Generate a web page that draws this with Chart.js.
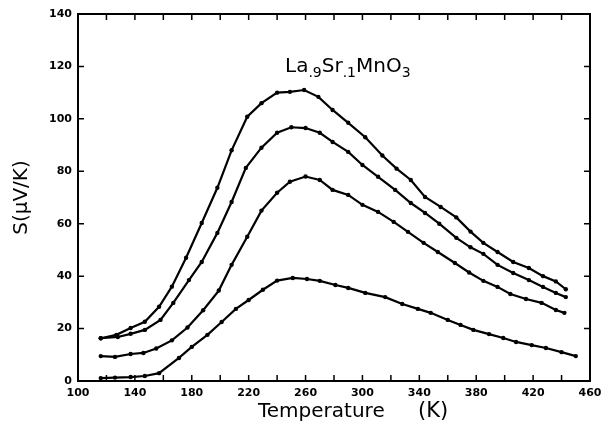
<!DOCTYPE html>
<html>
<head>
<meta charset="utf-8">
<script src="https://cdn.jsdelivr.net/npm/chart.js@4/dist/chart.umd.min.js"></script>
<style>
  html, body { margin: 0; padding: 0; background: #fff; }
  #wrap { width: 616px; height: 427px; }
</style>
</head>
<body>
<div id="wrap"><canvas id="seebeckChart" width="616" height="427"></canvas></div>
<script>
// Temperature (K) and S (uV/K), top to bottom
var temps1 = [116, 127, 137, 147, 157, 166, 176, 187, 198, 208, 219, 229, 240, 249, 259, 269, 279, 290, 302, 314, 324, 334, 344, 355, 366, 376, 385, 395, 406, 417, 427, 436, 443];
var seebeck1 = [16.3, 17.6, 20.2, 22.6, 28.3, 36, 47, 60.3, 73.7, 88, 100.8, 106, 110, 110.3, 111, 108.4, 103.4, 98.5, 93, 86, 81, 76.7, 70.2, 66.4, 62.4, 57, 52.7, 49.2, 45.4, 43.1, 40, 38, 35];

var temps2 = [116, 128, 137, 147, 158, 167, 178, 187, 198, 208, 218, 229, 240, 250, 260, 270, 279, 290, 300, 311, 323, 334, 344, 354, 366, 376, 385, 395, 406, 417, 427, 436, 443];
var seebeck2 = [16.3, 16.8, 18, 19.5, 23.3, 29.8, 38.5, 45.4, 56.5, 68.3, 81.3, 89, 94.7, 96.8, 96.5, 94.7, 91.2, 87.4, 82.4, 77.9, 72.9, 67.9, 64.1, 60, 54.6, 51, 48.5, 44.3, 41.2, 38.5, 35.9, 33.6, 32];

var temps3 = [116, 126, 137, 146, 155, 166, 177, 188, 199, 208, 219, 229, 240, 249, 260, 270, 279, 290, 300, 311, 322, 332, 343, 353, 365, 375, 385, 395, 404, 415, 426, 436, 442];
var seebeck3 = [9.5, 9.2, 10.3, 10.7, 12.4, 15.5, 20.4, 27, 34.5, 44.3, 55, 65, 71.8, 76, 78, 76.7, 72.9, 71, 67.2, 64.5, 60.7, 56.9, 52.7, 49.2, 45, 41.4, 38.2, 35.9, 33.2, 31.3, 29.8, 27.1, 26];

var temps4 = [116, 126, 137, 147, 157, 171, 180, 191, 201, 211, 220, 230, 240, 251, 261, 270, 281, 290, 302, 316, 328, 339, 348, 360, 369, 378, 389, 399, 408, 419, 429, 440, 450];
var seebeck4 = [1.1, 1.3, 1.5, 1.9, 3, 8.8, 13, 17.6, 22.5, 27.5, 30.9, 34.8, 38.3, 39.3, 38.9, 38.2, 36.6, 35.5, 33.6, 32, 29.4, 27.5, 26, 23.3, 21.4, 19.5, 17.9, 16.4, 14.9, 13.7, 12.6, 11, 9.5];

var xTickLabels = [100, 140, 180, 220, 260, 300, 340, 380, 420, 460];
var yTickLabels = [0, 20, 40, 60, 80, 100, 120, 140];

function toPoints(xs, ys) {
    var pts = [];
    for (var i = 0; i < xs.length; i++) {
        pts.push({ x: xs[i], y: ys[i] });
    }
    return pts;
}

function curve(xs, ys) {
    return {
        data: toPoints(xs, ys),
        borderColor: '#000',
        backgroundColor: '#000',
        borderWidth: 2.2,
        pointRadius: 2.2,
        pointBorderWidth: 0,
        tension: 0,
        showLine: true
    };
}

// frame, inward ticks, x title and the compound name inside the plot
var framePlugin = {
    id: 'frame',
    afterDraw: function (chart) {
        var c = chart.ctx, a = chart.chartArea;
        var xs = chart.scales.x, ys = chart.scales.y;
        c.save();
        c.strokeStyle = '#000';
        c.lineWidth = 2;
        c.strokeRect(a.left, a.top, a.right - a.left, a.bottom - a.top);
        c.lineWidth = 1.5;
        for (var t = 100; t <= 460; t += 20) {
            var px = xs.getPixelForValue(t);
            c.beginPath();
            c.moveTo(px, a.bottom); c.lineTo(px, a.bottom - 6);
            c.moveTo(px, a.top); c.lineTo(px, a.top + 6);
            c.stroke();
        }
        for (var s = 0; s <= 140; s += 20) {
            var py = ys.getPixelForValue(s);
            c.beginPath();
            c.moveTo(a.left, py); c.lineTo(a.left + 6, py);
            c.moveTo(a.right, py); c.lineTo(a.right - 6, py);
            c.stroke();
        }
        c.fillStyle = '#000';
        c.textBaseline = 'alphabetic';
        c.textAlign = 'left';
        // x axis title
        c.font = '20px "DejaVu Sans"';
        c.fillText('Temperature', 258, 417);
        c.font = '21px "DejaVu Sans"';
        c.fillText('(K)', 418, 417);
        // La.9Sr.1MnO3
        var parts = [['La', 0], ['.9', 1], ['Sr', 0], ['.1', 1], ['MnO', 0], ['3', 1]];
        var x = 285, base = 72;
        parts.forEach(function (p) {
            c.font = p[1] ? '14px "DejaVu Sans"' : '20px "DejaVu Sans"';
            c.fillText(p[0], x, base + (p[1] ? 5 : 0));
            x += c.measureText(p[0]).width;
        });
        c.restore();
    }
};

var ctx = document.getElementById('seebeckChart');
var chart = new Chart(ctx, {
    type: 'scatter',
    data: {
        datasets: [curve(temps1, seebeck1), curve(temps2, seebeck2), curve(temps3, seebeck3), curve(temps4, seebeck4)]
    },
    options: {
        responsive: false,
        animation: false,
        layout: { padding: { left: 10, right: 26, top: 14, bottom: 4 } },
        plugins: { legend: { display: false }, tooltip: { enabled: false } },
        scales: {
            x: {
                type: 'linear',
                min: 100, max: 460,
                afterBuildTicks: function (scale) {
                    scale.ticks = xTickLabels.map(function (v) { return { value: v }; });
                },
                afterFit: function (scale) { scale.height = 42; },
                grid: { display: false, drawTicks: false },
                border: { display: false },
                ticks: { color: '#000', font: { family: 'DejaVu Sans', weight: 'bold', size: 11 }, padding: 6, maxRotation: 0 },
                title: { display: false }
            },
            y: {
                min: 0, max: 140,
                afterBuildTicks: function (scale) {
                    scale.ticks = yTickLabels.map(function (v) { return { value: v }; });
                },
                afterFit: function (scale) { scale.width = 68; },
                grid: { display: false, drawTicks: false },
                border: { display: false },
                ticks: { color: '#000', font: { family: 'DejaVu Sans', weight: 'bold', size: 11 }, padding: 6 },
                title: { display: true, text: 'S(\u03bcV/K)', color: '#000', font: { family: 'DejaVu Sans', size: 20 }, padding: { top: 0, bottom: 6 } }
            }
        }
    },
    plugins: [framePlugin]
});
</script>
</body>
</html>
